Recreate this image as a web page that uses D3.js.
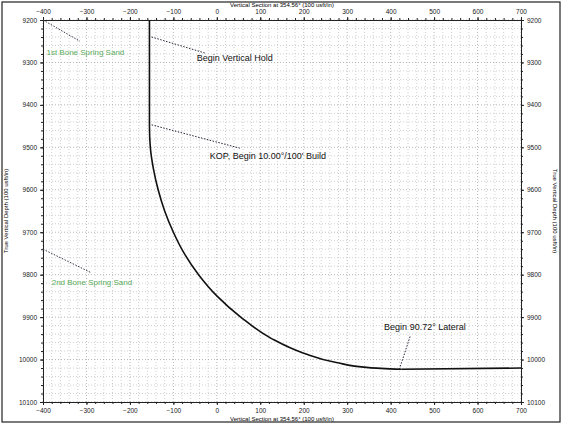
<!DOCTYPE html>
<html><head><meta charset="utf-8">
<script src="https://cdn.jsdelivr.net/npm/d3@7"></script>
<style>body{margin:0;background:#fff}svg{font-family:"Liberation Sans",Arial,sans-serif}</style>
</head><body><svg id="c" width="564" height="425"></svg>
<script>
const vsTicks = [-400,-300,-200,-100,0,100,200,300,400,500,600,700];
const tvdTicks = [9200,9300,9400,9500,9600,9700,9800,9900,10000,10100];
const wellVS  = [-155,-155,-153,-146,-135,-120,-100,-75,-42,0,55,125,200,275,350,425,700];
const wellTVD = [9200,9450,9500,9550,9600,9650,9700,9750,9800,9850,9900,9950,9985,10007,10019,10023,10020];
const notes = [
  {text:"Begin Vertical Hold", x1:-150, y1:9240, x2:-27, y2:9278, tx:-46, ty:9296},
  {text:"KOP, Begin 10.00°/100' Build", x1:-150, y1:9447, x2:53, y2:9502, tx:-16, ty:9527},
  {text:"Begin 90.72° Lateral", x1:420, y1:10023, x2:445, y2:9945, tx:385, ty:9930}
];
const formations = [
  {text:"1st Bone Spring Sand", x1:-400, y1:9200, x2:-315, y2:9250, tx:-392, ty:9283},
  {text:"2nd Bone Spring Sand", x1:-400, y1:9740, x2:-290, y2:9795, tx:-380, ty:9825}
];

const svg = d3.select("#c");
const x = d3.scaleLinear().domain([-400,700]).range([43,521]);
const y = d3.scaleLinear().domain([9200,10100]).range([20,402]);

svg.append("rect").attr("x",2).attr("y",2).attr("width",558).attr("height",420)
  .attr("fill","none").attr("stroke","#222").attr("stroke-width",1.2);

const g = svg.append("g");
g.selectAll(".vx").data(d3.range(-400,701,20)).join("line")
  .attr("x1",d=>x(d)).attr("x2",d=>x(d)).attr("y1",y(9200)).attr("y2",y(10100))
  .attr("stroke",d=>d%100===0?"#999":"#bbb").attr("stroke-dasharray","1,2").attr("stroke-width",0.7);
g.selectAll(".hy").data(d3.range(9200,10101,20)).join("line")
  .attr("y1",d=>y(d)).attr("y2",d=>y(d)).attr("x1",x(-400)).attr("x2",x(700))
  .attr("stroke",d=>d%100===0?"#999":"#bbb").attr("stroke-dasharray","1,2").attr("stroke-width",0.7);

const axStyle = a => { a.selectAll("text").attr("font-size",6.5).attr("fill","#222"); a.selectAll("path,line").attr("stroke","#222"); };
svg.append("g").attr("transform",`translate(0,${y(9200)})`).call(d3.axisTop(x).tickValues(vsTicks).tickSize(3)).call(axStyle);
svg.append("g").attr("transform",`translate(0,${y(10100)})`).call(d3.axisBottom(x).tickValues(vsTicks).tickSize(3)).call(axStyle);
svg.append("g").attr("transform",`translate(${x(-400)},0)`).call(d3.axisLeft(y).tickValues(tvdTicks).tickSize(3).tickFormat(d3.format("d"))).call(axStyle);
svg.append("g").attr("transform",`translate(${x(700)},0)`).call(d3.axisRight(y).tickValues(tvdTicks).tickSize(3).tickFormat(d3.format("d"))).call(axStyle);
[[d3.axisTop(x),y(9200)],[d3.axisBottom(x),y(10100)]].forEach(([a,p])=>
  svg.append("g").attr("transform",`translate(0,${p})`).call(a.tickValues(d3.range(-400,701,20)).tickSize(2).tickFormat("")).call(axStyle));
[[d3.axisLeft(y),x(-400)],[d3.axisRight(y),x(700)]].forEach(([a,p])=>
  svg.append("g").attr("transform",`translate(${p},0)`).call(a.tickValues(d3.range(9200,10101,20)).tickSize(2).tickFormat("")).call(axStyle));

const title = "Vertical Section at 354.56° (100 usft/in)";
svg.append("text").attr("x",282).attr("y",7).attr("text-anchor","middle").attr("font-size",6).text(title);
svg.append("text").attr("x",282).attr("y",421).attr("text-anchor","middle").attr("font-size",6).text(title);
svg.append("text").attr("transform",`translate(8,211) rotate(-90)`).attr("text-anchor","middle").attr("font-size",6).text("True Vertical Depth (100 usft/in)");
svg.append("text").attr("transform",`translate(553,211) rotate(90)`).attr("text-anchor","middle").attr("font-size",6).text("True Vertical Depth (100 usft/in)");

formations.forEach(f=>{
  svg.append("line").attr("x1",x(f.x1)).attr("y1",y(f.y1)).attr("x2",x(f.x2)).attr("y2",y(f.y2))
    .attr("stroke","#334").attr("stroke-dasharray","1.5,1.5");
  svg.append("text").attr("x",x(f.tx)).attr("y",y(f.ty)).attr("font-size",8).attr("fill","#5aab5a").text(f.text);
});

const line = d3.line().x(d=>x(d[0])).y(d=>y(d[1])).curve(d3.curveMonotoneY);
svg.append("path").datum(d3.zip(wellVS.slice(0,16),wellTVD.slice(0,16))).attr("d",line)
  .attr("fill","none").attr("stroke","#111").attr("stroke-width",1.6);
svg.append("path").datum(d3.zip(wellVS.slice(15),wellTVD.slice(15))).attr("d",d3.line().x(d=>x(d[0])).y(d=>y(d[1])))
  .attr("fill","none").attr("stroke","#111").attr("stroke-width",1.6);

notes.forEach(n=>{
  svg.append("line").attr("x1",x(n.x1)).attr("y1",y(n.y1)).attr("x2",x(n.x2)).attr("y2",y(n.y2))
    .attr("stroke","#223").attr("stroke-dasharray","1.5,1.5");
  svg.append("text").attr("x",x(n.tx)).attr("y",y(n.ty)).attr("font-size",9).attr("fill","#111").text(n.text);
});
</script></body></html>
